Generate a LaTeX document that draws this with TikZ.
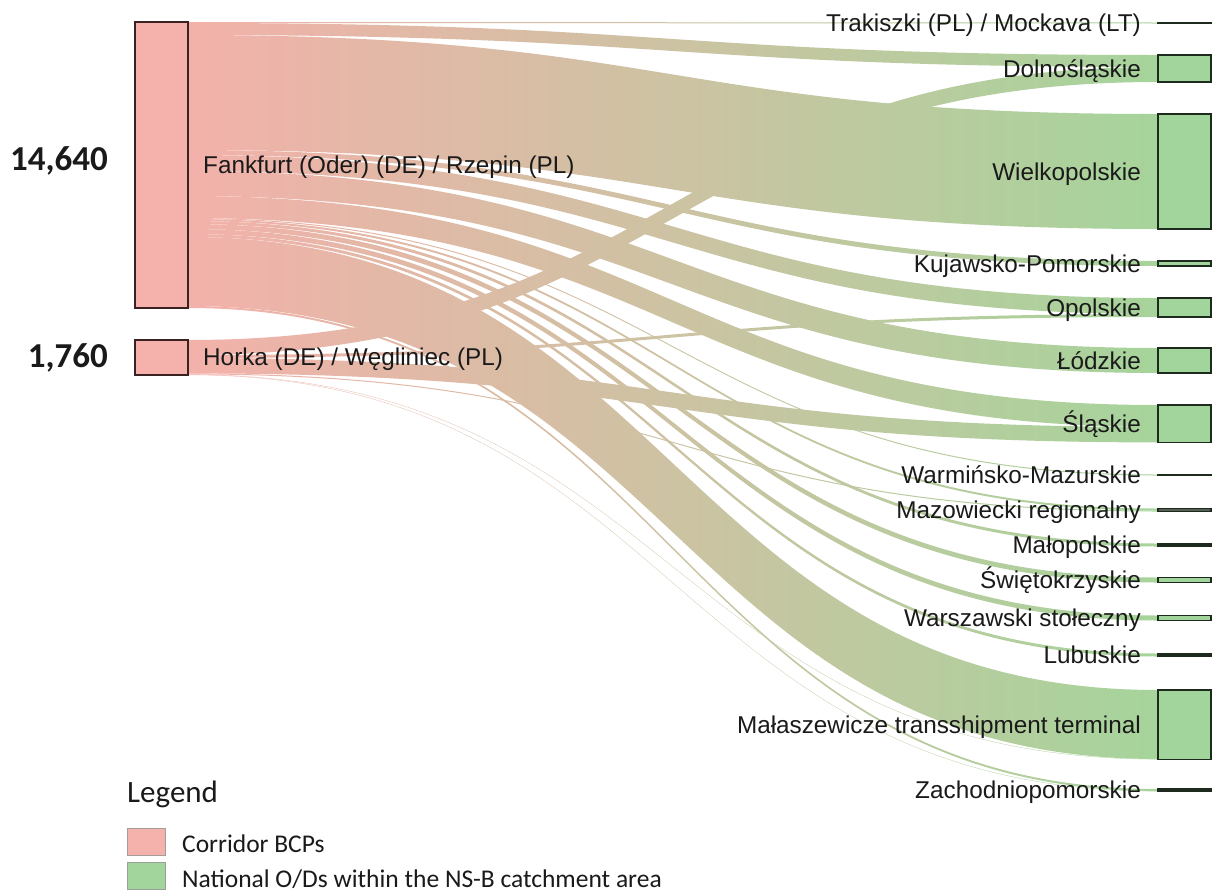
\documentclass[tikz,border=0pt]{standalone}
\usepackage{fontspec}
\setmainfont{Liberation Sans}
\newfontfamily\legfont{Carlito}
\usetikzlibrary{calc}
\definecolor{bcpfill}{HTML}{F5B2AC}
\definecolor{bcpedge}{HTML}{3A2222}
\definecolor{odfill}{HTML}{A2D59C}
\definecolor{odedge}{HTML}{1E2A1E}
\definecolor{flowL}{HTML}{F3B1AA}
\definecolor{flowR}{HTML}{A6D49B}
\definecolor{ink}{HTML}{1A1A1A}

% flow band from #1 (offset #2) to #3 (offset #4), thickness #5
\newcommand\sankeyband[5]{%
  \coordinate (a0) at ($(#1.north east)+(0,#2)$);
  \coordinate (b0) at ($(#1.north east)+(0,#2+#5)$);
  \coordinate (a1) at ($(#3.north west)+(0,#4)$);
  \coordinate (b1) at ($(#3.north west)+(0,#4+#5)$);
  \shade[flow] (a0) .. controls (mid |- a0) and (mid |- a1) .. (a1)
    -- (b1) .. controls (mid |- b1) and (mid |- b0) .. (b0) -- cycle;
}

\begin{document}
\begin{tikzpicture}[x=1pt,y=-1pt,
  srcbox/.style={draw=bcpedge, fill=bcpfill, line width=1.8pt, minimum width=53pt,
    inner sep=0pt, outer sep=0pt, anchor=north},
  dstbox/.style={draw=odedge, fill=odfill, line width=1.6pt, minimum width=53pt,
    inner sep=0pt, outer sep=0pt, anchor=north},
  flow/.style={left color=flowL, right color=flowR},
  lab/.style={font=\fontsize{24.3}{28}\selectfont, text=ink, inner sep=0pt},
  rlab/.style={lab, anchor=base east},
  num/.style={font=\legfont\bfseries\fontsize{35}{40}\selectfont, text=ink, inner sep=0pt, anchor=base east},
  legtxt/.style={font=\legfont\fontsize{25.5}{30}\selectfont, text=ink, inner sep=0pt, anchor=base west},
  swatch/.style={line width=0.8pt, minimum width=38pt, minimum height=27pt, inner sep=0pt,
    outer sep=0pt, anchor=north west}
]
\fill[white] (0,0) rectangle (1215,892);
\useasboundingbox (0,0) rectangle (1215,892);

\coordinate (mid) at (673,0);

% border crossing points
\node[srcbox, minimum height=286pt] (fr) at (161.5,22) {};
\node[srcbox, minimum height=35pt] (ho) at (161.5,340) {};

% national origins / destinations
\node[dstbox, minimum height=1pt] (trak) at (1184.5,22.5) {};
\node[dstbox, minimum height=27pt] (dol) at (1184.5,55) {};
\node[dstbox, minimum height=115pt] (wiel) at (1184.5,114) {};
\node[dstbox, minimum height=5pt] (kuj) at (1184.5,261) {};
\node[dstbox, minimum height=19pt] (opo) at (1184.5,298) {};
\node[dstbox, minimum height=25pt] (lod) at (1184.5,348) {};
\node[dstbox, minimum height=37.4pt] (sla) at (1184.5,405) {};
\node[dstbox, minimum height=1pt] (warm) at (1184.5,474.5) {};
\node[dstbox, minimum height=3pt] (maz) at (1184.5,508.5) {};
\node[dstbox, minimum height=3pt] (malo) at (1184.5,543.5) {};
\node[dstbox, minimum height=5pt] (swie) at (1184.5,577.5) {};
\node[dstbox, minimum height=5pt] (warsz) at (1184.5,615.5) {};
\node[dstbox, minimum height=3pt] (lub) at (1184.5,653.5) {};
\node[dstbox, minimum height=69.3pt] (mala) at (1184.5,690) {};
\node[dstbox, minimum height=2.3pt] (zach) at (1184.5,789) {};

% flows from Frankfurt (Oder) / Rzepin
\sankeyband{fr}{0}{trak}{0}{1}
\sankeyband{fr}{1}{dol}{0}{12}
\sankeyband{fr}{13}{wiel}{0}{115}
\sankeyband{fr}{128}{kuj}{0}{5}
\sankeyband{fr}{133}{opo}{0}{16}
\sankeyband{fr}{149}{lod}{0}{25}
\sankeyband{fr}{174}{sla}{0}{22}
\sankeyband{fr}{196}{warm}{0}{1}
\sankeyband{fr}{197}{maz}{0}{2}
\sankeyband{fr}{199}{malo}{0}{3}
\sankeyband{fr}{202}{swie}{0}{5}
\sankeyband{fr}{207}{warsz}{0}{5}
\sankeyband{fr}{212}{lub}{0}{3}
\sankeyband{fr}{215}{mala}{0}{69}
\sankeyband{fr}{284}{zach}{0}{2}

% flows from Horka / Węgliniec
\sankeyband{ho}{0}{dol}{12}{15}
\sankeyband{ho}{15}{opo}{16}{3}
\sankeyband{ho}{18}{sla}{22}{15.4}
\sankeyband{ho}{33.4}{maz}{2}{1}
\sankeyband{ho}{34.4}{mala}{69}{0.3}
\sankeyband{ho}{34.7}{zach}{2}{0.3}

% redraw boxes above the flows
\node[srcbox, minimum height=286pt] at (fr.north) {};
\node[srcbox, minimum height=35pt] at (ho.north) {};
\foreach \n/\h/\c in {trak/1/odedge,dol/27/odfill,wiel/115/odfill,kuj/5/odfill,opo/19/odfill,
  lod/25/odfill,sla/37.4/odfill,maz/3/odedge!75,malo/3/odedge,swie/5/odfill,
  warsz/5/odfill,lub/3/odedge,mala/69.3/odfill,zach/2.3/odedge}
  \node[dstbox, fill=\c, minimum height=\h pt] at (\n.north) {};
\node[dstbox, line width=1.1pt, minimum height=1pt] at (warm.north) {};

% source labels and totals
\node[lab, anchor=base west] (frL) at (203,173) {Fankfurt (Oder) (DE) / Rzepin (PL)};
\node[lab, anchor=base west] (hoL) at (203,365) {Horka (DE) / Węgliniec (PL)};
\node[num] (frN) at (108,170) {14,640};
\node[num] (hoN) at (108,367) {1,760};

% destination labels
\foreach \n/\t in {trak/{Trakiszki (PL) / Mockava (LT)}, dol/Dolnośląskie, wiel/Wielkopolskie,
  kuj/Kujawsko-Pomorskie, opo/Opolskie, lod/Łódzkie, sla/Śląskie, warm/Warmińsko-Mazurskie,
  maz/Mazowiecki regionalny, malo/Małopolskie, swie/Świętokrzyskie, warsz/Warszawski stołeczny,
  lub/Lubuskie, mala/Małaszewicze transshipment terminal, zach/Zachodniopomorskie}
  \node[rlab] (\n L) at ($(\n.west)+(-17,8.5)$) {\t};

% legend
\node[legtxt, font=\legfont\fontsize{31}{36}\selectfont] (legT) at (127,802) {Legend};
\node[swatch, draw=bcpedge!45, fill=bcpfill] (legA) at (127,828) {};
\node[swatch, draw=odedge!45, fill=odfill] (legB) at (127,862) {};
\node[legtxt] (legAt) at (182,852) {Corridor BCPs};
\node[legtxt] (legBt) at (182,887) {National O/Ds within the NS-B catchment area};
\end{tikzpicture}
\end{document}
